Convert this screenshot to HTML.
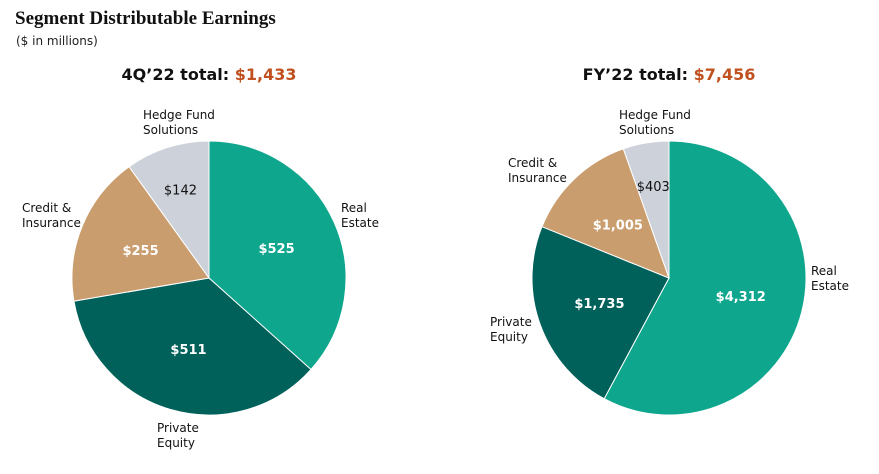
<!DOCTYPE html>
<html><head><meta charset="utf-8"><style>
body{margin:0;background:#fff;width:879px;height:470px;overflow:hidden;font-family:"DejaVu Sans","Liberation Sans",sans-serif}
</style></head><body>
<svg width="879" height="470">
<text x="15" y="24" font-family="Liberation Serif,serif" font-weight="bold" font-size="19" fill="#111">Segment Distributable Earnings</text>
<text x="16" y="45" font-size="12" fill="#222">($ in millions)</text>
<text x="209" y="80" text-anchor="middle" font-size="16" font-weight="bold" fill="#111">4Q’22 total: <tspan fill="#c0501e">$1,433</tspan></text>
<text x="669" y="80" text-anchor="middle" font-size="16" font-weight="bold" fill="#111">FY’22 total: <tspan fill="#c0501e">$7,456</tspan></text>
<g id="p1"></g><g id="p2"></g>
<g font-size="12" fill="#111">
<text x="341" y="212"><tspan>Real</tspan><tspan x="341" dy="15">Estate</tspan></text>
<text x="157" y="432"><tspan>Private</tspan><tspan x="157" dy="15">Equity</tspan></text>
<text x="22" y="212"><tspan>Credit &amp;</tspan><tspan x="22" dy="15">Insurance</tspan></text>
<text x="143" y="119"><tspan>Hedge Fund</tspan><tspan x="143" dy="15">Solutions</tspan></text>
<text x="811" y="275"><tspan>Real</tspan><tspan x="811" dy="15">Estate</tspan></text>
<text x="490" y="326"><tspan>Private</tspan><tspan x="490" dy="15">Equity</tspan></text>
<text x="508" y="167"><tspan>Credit &amp;</tspan><tspan x="508" dy="15">Insurance</tspan></text>
<text x="619" y="119"><tspan>Hedge Fund</tspan><tspan x="619" dy="15">Solutions</tspan></text>
</g>
</svg>
<script>
const categories=["Real Estate","Private Equity","Credit & Insurance","Hedge Fund Solutions"];
const q4Values=[525,511,255,142];
const fyValues=[4312,1735,1005,403];
const q4Labels=["$525","$511","$255","$142"];
const fyLabels=["$4,312","$1,735","$1,005","$403"];
const colors=["#0ea68d","#00605a","#c99d6e","#cdd1da"];
const textColors=["#fff","#fff","#fff","#111"];
function drawPie(gid,vals,labels,cx,cy,r,key){
  const g=document.getElementById(gid);const ns="http://www.w3.org/2000/svg";
  const tot=vals.reduce((a,b)=>a+b,0);let a0=0;
  vals.forEach((v,i)=>{
    const a1=a0+v/tot*2*Math.PI;
    const x0=cx+r*Math.sin(a0),y0=cy-r*Math.cos(a0),x1=cx+r*Math.sin(a1),y1=cy-r*Math.cos(a1);
    const p=document.createElementNS(ns,"path");
    p.setAttribute("d",`M${cx},${cy}L${x0},${y0}A${r},${r} 0 ${a1-a0>Math.PI?1:0} 1 ${x1},${y1}Z`);
    p.setAttribute("fill",colors[i]);p.setAttribute("stroke","#fff");p.setAttribute("stroke-width","1");
    
    
    g.appendChild(p);
    const m=(a0+a1)/2,lr=r*(v/tot<0.1?0.68:0.54);
    const t=document.createElementNS(ns,"text");
    t.setAttribute("x",cx+lr*Math.sin(m));t.setAttribute("y",cy-lr*Math.cos(m)+5);
    t.setAttribute("text-anchor","middle");t.setAttribute("font-size","13");t.setAttribute("font-weight",i==3?"normal":"bold");
    t.setAttribute("fill",textColors[i]);t.textContent=labels[i];
    
    
    g.appendChild(t);
    a0=a1;
  });
}
drawPie("p1",q4Values,q4Labels,209,278,137,"q4");
drawPie("p2",fyValues,fyLabels,669,278,137,"fy");
</script>
</body></html>
